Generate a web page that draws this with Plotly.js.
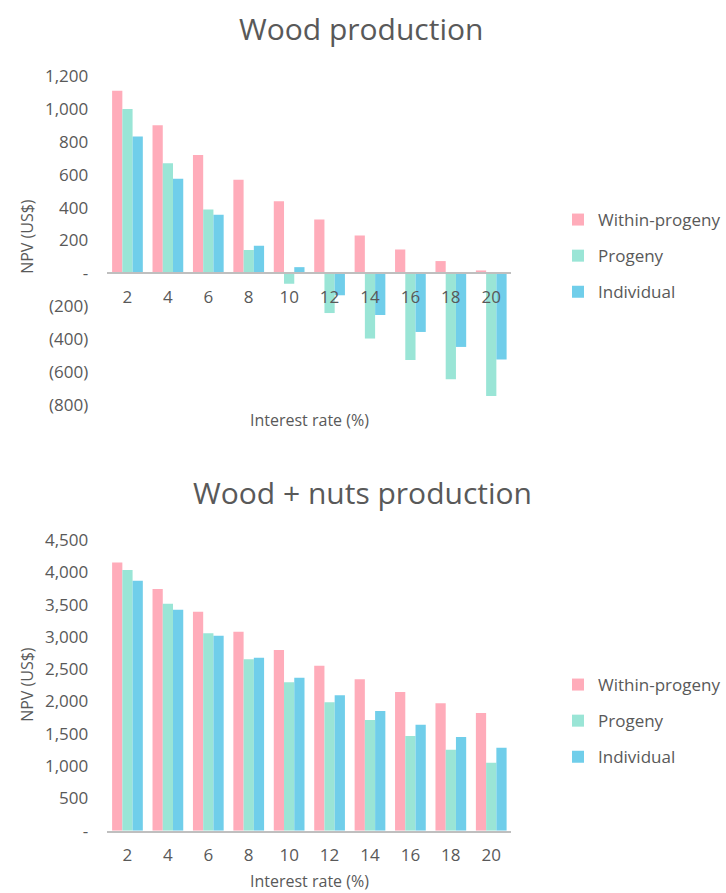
<!DOCTYPE html>
<html>
<head>
<meta charset="utf-8">
<script src="https://cdn.plot.ly/plotly-3.0.1.min.js"></script>
<style>
  html, body { margin: 0; padding: 0; background: #ffffff; }
  #chart { width: 726px; height: 893px; }
</style>
</head>
<body>
<div id="chart"></div>
<script>
// Interest rates (%) shared by both panels
const rates = ['2', '4', '6', '8', '10', '12', '14', '16', '18', '20'];

// Net present value (US$), wood only
const woodWithinProgeny = [1110, 900, 720, 570, 438, 327, 230, 145, 75, 18];
const woodProgeny       = [1000, 670, 388, 143, -63, -241, -396, -527, -644, -745];
const woodIndividual    = [832, 576, 356, 168, 38, -133, -253, -356, -447, -523];

// Net present value (US$), wood plus nuts
const nutsWithinProgeny = [4150, 3740, 3390, 3080, 2797, 2554, 2343, 2147, 1972, 1822];
const nutsProgeny       = [4036, 3514, 3056, 2653, 2297, 1988, 1714, 1466, 1254, 1053];
const nutsIndividual    = [3870, 3421, 3019, 2678, 2369, 2096, 1853, 1641, 1450, 1285];

// Y tick labels (accounting style)
const woodTickVals  = [-800, -600, -400, -200, 0, 200, 400, 600, 800, 1000, 1200];
const woodTickText  = ['(800)', '(600)', '(400)', '(200)', '-', '200', '400', '600', '800', '1,000', '1,200'];
const nutsTickVals  = [0, 500, 1000, 1500, 2000, 2500, 3000, 3500, 4000, 4500];
const nutsTickText  = ['-', '500', '1,000', '1,500', '2,000', '2,500', '3,000', '3,500', '4,000', '4,500'];

const seriesNames = ['Within-progeny', 'Progeny', 'Individual'];
const colors = ['#FFACBA', '#9AE5D6', '#70CEEA'];

const FONT = '"Open Sans", Inter, "Liberation Sans", sans-serif';
const GREY = '#595959';

// Panel geometry in paper fractions (page is 726 x 893 px)
const W = 726, H = 893;
const xDom = [108 / W, 515 / W];
const topDom = [1 - 405 / H, 1 - 76 / H];
const topRange = [-800, 1200];
const topZero = topDom[0] + (0 - topRange[0]) / (topRange[1] - topRange[0]) * (topDom[1] - topDom[0]);
const botDom = [1 - 830.7 / H, 1 - 540 / H];

function bars(name, y, color, xa, ya, legend, group) {
  return {
    type: 'bar', name: name, x: rates, y: y,
    xaxis: xa, yaxis: ya, legend: legend, legendgroup: group,
    marker: { color: color, line: { width: 0 } },
    hoverinfo: 'x+y+name'
  };
}

const traces = [
  bars(seriesNames[0], woodWithinProgeny, colors[0], 'x', 'y', 'legend', 'a1'),
  bars(seriesNames[1], woodProgeny,       colors[1], 'x', 'y', 'legend', 'a2'),
  bars(seriesNames[2], woodIndividual,    colors[2], 'x', 'y', 'legend', 'a3'),
  bars(seriesNames[0], nutsWithinProgeny, colors[0], 'x2', 'y2', 'legend2', 'b1'),
  bars(seriesNames[1], nutsProgeny,       colors[1], 'x2', 'y2', 'legend2', 'b2'),
  bars(seriesNames[2], nutsIndividual,    colors[2], 'x2', 'y2', 'legend2', 'b3')
];

const tickFont = { family: FONT, size: 17, color: GREY };
const legendBase = {
  font: { family: FONT, size: 17, color: GREY },
  xanchor: 'left', yanchor: 'top',
  bgcolor: 'rgba(0,0,0,0)', borderwidth: 0,
  tracegroupgap: 11, itemclick: false, itemdoubleclick: false
};

const xCommon = {
  type: 'category', domain: xDom, showgrid: false, zeroline: false,
  showline: true, linecolor: '#BFBFBF', linewidth: 2,
  ticks: '', tickfont: tickFont, ticklabelstandoff: 8, fixedrange: true
};
const yCommon = {
  showgrid: false, zeroline: false, showline: false, ticks: '',
  tickfont: tickFont, ticklabelstandoff: 18, fixedrange: true
};

function label(text, x, y, size, angle) {
  return {
    text: text, xref: 'paper', yref: 'paper', x: x, y: y,
    xanchor: 'center', yanchor: 'middle', showarrow: false,
    textangle: angle || 0, font: { family: FONT, size: size, color: GREY }
  };
}

const layout = {
  width: W, height: H,
  margin: { l: 0, r: 0, t: 0, b: 0 },
  paper_bgcolor: '#ffffff', plot_bgcolor: '#ffffff',
  barmode: 'group', bargap: 0.24, bargroupgap: 0,
  showlegend: true,
  xaxis: Object.assign({}, xCommon, { anchor: 'free', position: topZero }),
  yaxis: Object.assign({}, yCommon, { domain: topDom, range: topRange, anchor: 'x',
    tickvals: woodTickVals, ticktext: woodTickText }),
  xaxis2: Object.assign({}, xCommon, { anchor: 'y2' }),
  yaxis2: Object.assign({}, yCommon, { domain: botDom, range: [0, 4500], anchor: 'x2',
    tickvals: nutsTickVals, ticktext: nutsTickText }),
  legend: Object.assign({}, legendBase, { x: 562 / W, y: 1 - 202 / H }),
  legend2: Object.assign({}, legendBase, { x: 562 / W, y: 1 - 667 / H }),
  annotations: [
    label('Wood production', 364 / W, 1 - 29 / H, 30),
    label('Wood + nuts production', 365 / W, 1 - 492 / H, 30),
    label('NPV (US$)', 27 / W, 1 - 236 / H, 16, -90),
    label('NPV (US$)', 27 / W, 1 - 684 / H, 16, -90),
    label('Interest rate (%)', 312 / W, 1 - 420 / H, 16),
    label('Interest rate (%)', 312 / W, 1 - 881 / H, 16)
  ]
};

Plotly.newPlot('chart', traces, layout, { displayModeBar: false });
</script>
</body>
</html>
